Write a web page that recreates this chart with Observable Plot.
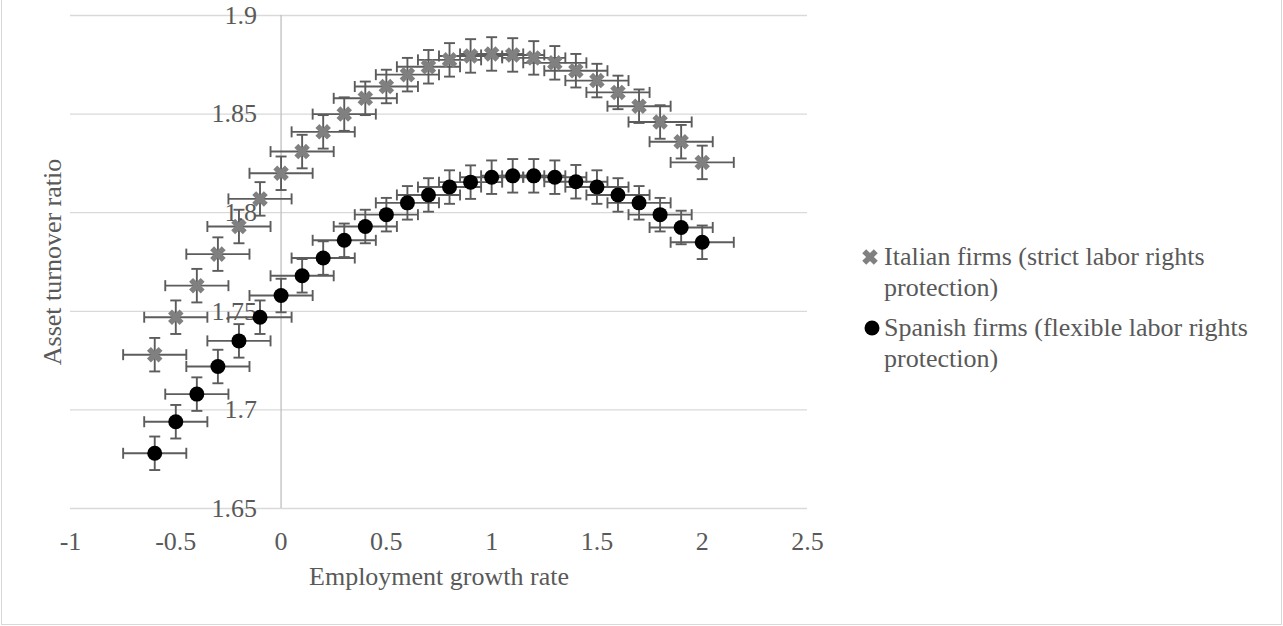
<!DOCTYPE html>
<html>
<head>
<meta charset="utf-8">
<script src="https://cdn.jsdelivr.net/npm/d3@7"></script>
<script src="https://cdn.jsdelivr.net/npm/@observablehq/plot@0.6"></script>
<style>
  body { margin: 0; background: #fff; }
  #chart { position: relative; width: 1283px; height: 626px; overflow: hidden;
           font-family: "Liberation Serif", "Times New Roman", serif; color: #595959; }
  #chart svg.plot { position: absolute; left: 0; top: 0; }
  #frame { position: absolute; left: 1px; top: -5px; width: 1281px; height: 630px;
           border: 1px solid #d9d9d9; box-sizing: border-box; pointer-events: none; }
  .leg { position: absolute; font-size: 26px; line-height: 31px; color: #595959; white-space: nowrap; }
  .legmark { position: absolute; }
</style>
</head>
<body>
<div id="chart">
  <div id="frame"></div>
</div>
<script>
// ---- data ----
const xValues = [-0.6, -0.5, -0.4, -0.3, -0.2, -0.1, 0.0, 0.1, 0.2, 0.3, 0.4, 0.5, 0.6, 0.7,
                 0.8, 0.9, 1.0, 1.1, 1.2, 1.3, 1.4, 1.5, 1.6, 1.7, 1.8, 1.9, 2.0];
const italianY = [1.728, 1.747, 1.763, 1.779, 1.793, 1.807, 1.820, 1.831, 1.841, 1.850, 1.858, 1.864,
                  1.870, 1.874, 1.8775, 1.8795, 1.8805, 1.880, 1.8785, 1.876, 1.872, 1.867, 1.861,
                  1.854, 1.846, 1.836, 1.8255];
const spanishY = [1.678, 1.694, 1.708, 1.722, 1.735, 1.747, 1.758, 1.768, 1.777, 1.786, 1.793, 1.799,
                  1.805, 1.809, 1.813, 1.8155, 1.818, 1.8187, 1.8187, 1.818, 1.8157, 1.813, 1.809,
                  1.805, 1.799, 1.7925, 1.785];
const errX = 0.15;     // horizontal error amount
const errY = 0.0085;   // vertical error amount
const xTicks = [-1, -0.5, 0, 0.5, 1, 1.5, 2, 2.5];
const yTicks = [1.65, 1.7, 1.75, 1.8, 1.85, 1.9];
const seriesNames = ["Italian firms (strict labor rights\nprotection)",
                     "Spanish firms (flexible labor rights\nprotection)"];
const xTitle = "Employment growth rate";
const yTitle = "Asset turnover ratio";

// ---- tables ----
const italian = xValues.map((x, i) => ({x, y: italianY[i]}));
const spanish = xValues.map((x, i) => ({x, y: spanishY[i]}));
const all = italian.concat(spanish);

// ---- custom symbols ----
const thickX = {
  draw(ctx, size) {
    const a = Math.sqrt(size / Math.PI), w = a * 0.34;
    const pts = [[-w,-a],[w,-a],[w,-w],[a,-w],[a,w],[w,w],[w,a],[-w,a],[-w,w],[-a,w],[-a,-w],[-w,-w]]
      .map(([x, y]) => [(x - y) / Math.SQRT2, (x + y) / Math.SQRT2]);
    ctx.moveTo(pts[0][0], pts[0][1]);
    for (let k = 1; k < pts.length; ++k) ctx.lineTo(pts[k][0], pts[k][1]);
    ctx.closePath();
  }
};
const vCap = { draw(ctx, size) { const r = Math.sqrt(size / Math.PI); ctx.moveTo(0, -r); ctx.lineTo(0, r); } };
const hCap = { draw(ctx, size) { const r = Math.sqrt(size / Math.PI); ctx.moveTo(-r, 0); ctx.lineTo(r, 0); } };

const barColor = "#5c5c5c";
const barW = 1.9;
const capR = 5.5;
const textColor = "#595959";
const fontSize = 26;

const chart = Plot.plot({
  width: 1283,
  height: 626,
  marginLeft: 70,
  marginRight: 476,
  marginTop: 15,
  marginBottom: 118,
  x: {domain: [-1, 2.5], axis: null},
  y: {domain: [1.65, 1.9], axis: null},
  style: {fontFamily: '"Liberation Serif", "Times New Roman", serif', fontSize: fontSize + "px", background: "transparent", overflow: "visible"},
  marks: [
    Plot.ruleY(yTicks, {stroke: "#d9d9d9", strokeWidth: 1.3}),
    Plot.ruleX([0], {stroke: "#bfbfbf", strokeWidth: 1.3}),
    // y tick labels next to the x=0 axis
    Plot.text(yTicks, {x: 0, y: d => d, text: d => String(d), textAnchor: "end", dx: -24, fill: textColor, fontSize}),
    // x tick labels
    Plot.text(xTicks, {x: d => d, y: 1.65, text: d => String(d), dy: 33, fill: textColor, fontSize}),
    // axis titles
    Plot.text([xTitle], {frameAnchor: "bottom", dy: 76, fill: textColor, fontSize}),
    Plot.text([yTitle], {frameAnchor: "left", dx: -18, rotate: -90, textAnchor: "middle", fill: textColor, fontSize}),
    // error bars: horizontal
    Plot.link(all, {x1: d => d.x - errX, x2: d => d.x + errX, y1: "y", y2: "y", stroke: barColor, strokeWidth: barW}),
    Plot.dot(all, {x: d => d.x - errX, y: "y", symbol: vCap, r: capR, fill: "none", stroke: barColor, strokeWidth: barW}),
    Plot.dot(all, {x: d => d.x + errX, y: "y", symbol: vCap, r: capR, fill: "none", stroke: barColor, strokeWidth: barW}),
    // error bars: vertical
    Plot.link(all, {x1: "x", x2: "x", y1: d => d.y - errY, y2: d => d.y + errY, stroke: barColor, strokeWidth: barW}),
    Plot.dot(all, {x: "x", y: d => d.y - errY, symbol: hCap, r: capR, fill: "none", stroke: barColor, strokeWidth: barW}),
    Plot.dot(all, {x: "x", y: d => d.y + errY, symbol: hCap, r: capR, fill: "none", stroke: barColor, strokeWidth: barW}),
    // markers
    Plot.dot(italian, {x: "x", y: "y", symbol: thickX, r: 8.2, fill: "#808080", stroke: "none"}),
    Plot.dot(spanish, {x: "x", y: "y", r: 7.5, fill: "#000000", stroke: "none"})
  ]
});
chart.classList.add("plot");
const root = document.getElementById("chart");
root.appendChild(chart);

// ---- legend (HTML, to the right of the plot) ----
function legendItem(name, markerSvg, mx, my, tx, ty) {
  const m = document.createElement("div");
  m.className = "legmark";
  m.style.left = (mx - 9) + "px";
  m.style.top = (my - 9) + "px";
  m.innerHTML = markerSvg;
  root.appendChild(m);
  const t = document.createElement("div");
  t.className = "leg";
  t.style.left = tx + "px";
  t.style.top = ty + "px";
  t.innerHTML = name.split("\n").join("<br>");
  root.appendChild(t);
}
const xPath = (() => { const p = d3.path(); thickX.draw(p, 8.2 * 8.2 * Math.PI); return p.toString(); })();
legendItem(seriesNames[0],
  `<svg width="18" height="18" viewBox="-9 -9 18 18"><path d="${xPath}" fill="#808080"/></svg>`,
  870, 257, 884, 241);
legendItem(seriesNames[1],
  `<svg width="18" height="18" viewBox="-9 -9 18 18"><circle r="7.5" fill="#000"/></svg>`,
  872, 328, 884, 312);
</script>
</body>
</html>
